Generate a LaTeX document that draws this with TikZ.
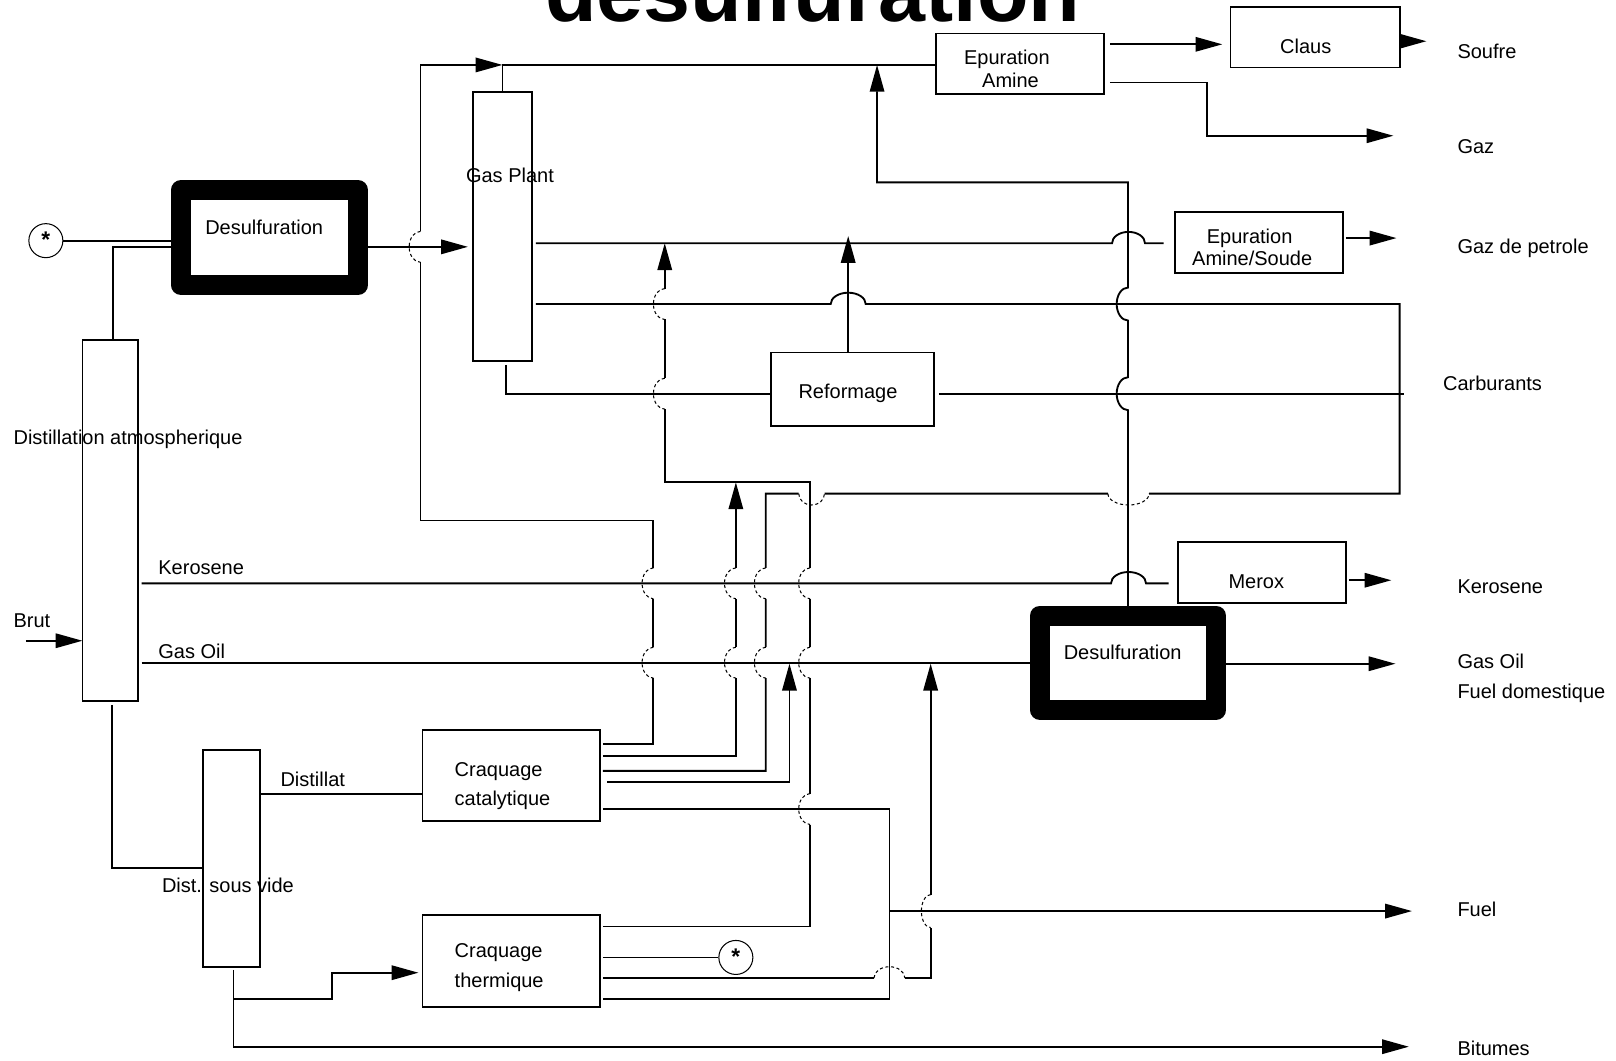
\documentclass[tikz,border=0pt]{standalone}
\usepackage{fontspec}
\setmainfont{Liberation Sans}
\usetikzlibrary{arrows.meta}

% dashed hops drawn where a line is broken to let another one pass
\newcommand{\vhop}[2]{\draw[hop] (#1,#2-15) arc[start angle=270,end angle=90,x radius=11,y radius=15];}
\newcommand{\hhopdown}[3]{\draw[hop] (#1-#3,#2) arc[start angle=180,end angle=0,x radius=#3,y radius=11];}
\newcommand{\hhopup}[3]{\draw[hop] (#1-#3,#2) arc[start angle=180,end angle=360,x radius=#3,y radius=11];}

\begin{document}
\begin{tikzpicture}[x=1pt,y=-1pt,
  flow/.style={line width=1.8pt},
  arr/.style={flow,-{Triangle[length=26pt,width=14pt]}},
  hop/.style={line width=1pt, dash pattern=on 3pt off 2.5pt},
  unit/.style={draw, line width=1.8pt, rectangle, inner sep=0pt, outer sep=0pt},
  hds/.style={draw, line width=19.5pt, line join=round, rectangle, inner sep=0pt},
  starmark/.style={draw, circle, line width=1pt, minimum size=33pt, inner sep=0pt,
               font=\bfseries\fontsize{22}{22}\selectfont},
  txt/.style={inner sep=0pt, font=\fontsize{19.4}{22}\selectfont, anchor=base west},
  ctxt/.style={txt, anchor=base},
]
\useasboundingbox (0,0) rectangle (1568,1029);
\fill[white] (0,0) rectangle (1568,1029);
\clip (0,0) rectangle (1568,1029);

% title (runs off the top edge)
\node[font=\bfseries\fontsize{82}{90}\selectfont, anchor=base, inner sep=0pt] (title) at (788.5,21) {desulfuration};

% ---------- units ----------
\node[unit, minimum width=54pt,  minimum height=350pt] (da)  at (107,505) {};
\node[unit, minimum width=55pt,  minimum height=210pt] (dsv) at (224.5,833) {};
\node[unit, minimum width=57pt,  minimum height=261pt] (gp)  at (487.5,219.5) {};
\node[unit, minimum width=163pt, minimum height=59pt]  (ea)  at (989.5,62) {};
\node[unit, minimum width=164pt, minimum height=59pt]  (claus) at (1276,36) {};
\node[unit, minimum width=163pt, minimum height=59pt]  (eas) at (1221.5,235) {};
\node[unit, minimum width=163pt, minimum height=59pt]  (merox) at (1224.5,555.5) {};
\node[unit, minimum width=158pt, minimum height=71pt]  (reform) at (827,377.5) {};
\node[unit, minimum width=172pt, minimum height=89pt]  (cc)  at (496,752.5) {};
\node[unit, minimum width=172pt, minimum height=89pt]  (ct)  at (496,932.5) {};
\node[hds, minimum width=172pt, minimum height=92pt]   (ds1) at (261.5,230.5) {};
\node[hds, minimum width=171.5pt, minimum height=91pt] (ds2) at (1094.5,643) {};
\node[starmark] (c1) at (44.5,233.5) {\raisebox{1pt}{*}\hspace{3pt}};
\node[starmark] (c2) at (714,929) {\raisebox{1pt}{*}\hspace{3pt}};

% ---------- unit labels ----------
\node[txt] (lds1) at (199,227.6) {Desulfuration};
\node[txt] (lds2) at (1032,640) {Desulfuration};
\node[txt] (lgp) at (452,177) {Gas Plant};
\node[txt] (lda) at (13,431) {Distillation atmospherique};
\node[txt] (ldsv) at (157,866) {Dist. sous vide};
\node[ctxt] (lea1) at (977,62.6) {Epuration};
\node[ctxt] (lea2) at (980.5,84.6) {Amine};
\node[ctxt] (lclaus) at (1267,51.6) {Claus};
\node[ctxt] (leas1) at (1212.5,236.7) {Epuration};
\node[ctxt] (leas2) at (1215,257.7) {Amine/Soude};
\node[txt] (lmerox) at (1191.8,570.8) {Merox};
\node[txt] (lref) at (774.6,386.5) {Reformage};
\node[txt] (lcc1) at (441,753) {Craquage};
\node[txt] (lcc2) at (441,782) {catalytique};
\node[txt] (lct1) at (441,929) {Craquage};
\node[txt] (lct2) at (441,958) {thermique};

% ---------- stream labels ----------
\node[txt] (lbrut) at (13,608.6) {Brut};
\node[txt] (lker) at (153.5,557) {Kerosene};
\node[txt] (lgo) at (153.5,639) {Gas Oil};
\node[txt] (ldist) at (272,763) {Distillat};
\node[txt] (psoufre) at (1414,56.5) {Soufre};
\node[txt] (pgaz) at (1414,149) {Gaz};
\node[txt] (pgdp) at (1414,245.5) {Gaz de petrole};
\node[txt] (pcarb) at (1400,379) {Carburants};
\node[txt] (pker) at (1414,576) {Kerosene};
\node[txt] (pgo) at (1414,649) {Gas Oil};
\node[txt] (pfd) at (1414,677.5) {Fuel domestique};
\node[txt] (pfuel) at (1414,889) {Fuel};
\node[txt] (pbit) at (1414,1024) {Bitumes};

% ---------- atmospheric distillation ----------
\draw[arr] (25,621.7) -- (da.west |- 0,621.7);
\draw[flow] (110,330) -- (110,239.5) -- (ds1.west |- 0,239.5);
\draw[flow] (c1.east) -- (c1.east -| ds1.west);
\draw[arr] (ds1.east |- 0,239.5) -- (454,239.5);
\draw[flow] (137.5,566) -- (1078,566)
  arc[start angle=180,end angle=360,x radius=17,y radius=11] -- (1134,566);
\draw[flow] (137.5,643) -- (ds2.west |- 0,643);
\draw[flow] (108.7,684) -- (108.7,842) -- (dsv.west |- 0,842);

% ---------- gas plant and amine treating ----------
\draw[flow] (gp.north) -- (gp.north |- 0,63) -- (ea.west |- 0,63);
\draw[arr] (1077,43) -- (1186,43);
\draw[arr] (1077,80) -- (1171,80) -- (1171,131.7) -- (1352,131.7);
\draw[arr] (claus.east |- 0,40) -- (1384,40);
\draw[flow] (520,236) -- (1079,236)
  arc[start angle=180,end angle=360,x radius=16,y radius=11] -- (1129,236);
\draw[arr] (1306,231) -- (1355,231);
\draw[flow] (491,354) -- (491,382) -- (reform.west |- 0,382);
\draw[flow] (911,382) -- (1362,382);
\draw[arr] (823,342) -- (823,229);
\draw[arr] (1309,563) -- (1350,563);
\draw[arr] (ds2.east |- 0,644) -- (1354,644);

% sour gas from the gas oil desulfuration back to amine treating
\draw[arr] (ds2.north) -- (1094.5,398)
  arc[start angle=90,end angle=270,x radius=11,y radius=16] -- (1094.5,311)
  arc[start angle=90,end angle=270,x radius=11,y radius=16] -- (1094.5,177) -- (851,177) -- (851,63);

% ---------- catalytic cracking outlets ----------
\draw[arr] (585,722) -- (634,722) -- (634,658) (634,628) -- (634,581) (634,551) -- (634,505)
  -- (408,505) -- (408,254.5) (408,224.5) -- (408,63) -- (487.5,63);
\vhop{634}{643} \vhop{634}{566} \vhop{408}{239.5}

\draw[arr] (585,733.6) -- (714,733.6) -- (714,658) (714,628) -- (714,581) (714,551) -- (714,468);
\vhop{714}{643} \vhop{714}{566}

\draw[flow] (585,748) -- (743,748) -- (743,658) (743,628) -- (743,581) (743,551) -- (743,479)
  -- (775,479) (800,479) -- (1075,479) (1115,479) -- (1358,479) -- (1358,295)
  -- (840,295) arc[start angle=360,end angle=180,x radius=17,y radius=11] -- (520,295);
\vhop{743}{643} \vhop{743}{566}
\hhopdown{787.5}{479}{12.5} \hhopdown{1095}{479}{20}

\draw[arr] (589,759) -- (766,759) -- (766,644);

\draw[flow] (585,785) -- (863,785) -- (863,969) -- (585,969);
\draw[arr] (863,884) -- (1370,884);

% ---------- thermal cracking outlets ----------
\draw[arr] (585,899) -- (786,899) -- (786,800) (786,770) -- (786,658) (786,628) -- (786,581) (786,551)
  -- (786,468) -- (645,468) -- (645,397) (645,367) -- (645,310) (645,280) -- (645,236);
\vhop{786}{785} \vhop{786}{643} \vhop{786}{566} \vhop{645}{382} \vhop{645}{295}

\draw[flow] (585,929) -- (c2.west);
\draw[arr] (585,949) -- (848,949) (878,949) -- (903,949) -- (903,900) (903,868) -- (903,644);
\hhopup{863}{949}{15}
\draw[hop] (903,868) arc[start angle=270,end angle=90,x radius=9,y radius=16];

% ---------- vacuum distillation ----------
\draw[flow] (dsv.east |- 0,770) -- (cc.west |- 0,770);
\draw[arr] (226.5,941) -- (226.5,969.4) -- (322,969.4) -- (322,943.8) -- (406,943.8);
\draw[arr] (226.5,969.4) -- (226.5,1015.6) -- (1367,1015.6);
\end{tikzpicture}
\end{document}
